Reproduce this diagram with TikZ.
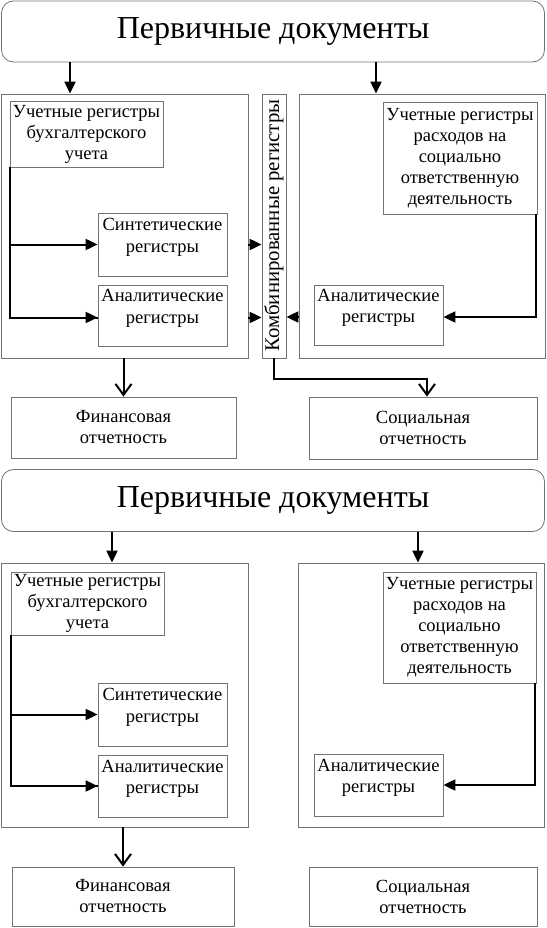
\documentclass[tikz,border=0pt]{standalone}
\usepackage{fontspec}
\setmainfont{Liberation Serif}
\usetikzlibrary{arrows.meta}
\begin{document}
\begin{tikzpicture}[x=1pt,y=-1pt,
  bx/.style={draw=black!55, line width=0.8pt, align=center, inner sep=0pt,
    font=\fontsize{18.5}{21}\selectfont},
  up/.style={label={[align=center, inner sep=0pt, font=\fontsize{18.5}{21.5}\selectfont, yshift=7pt]center:{#1}}},
  ttl/.style={bx, rounded corners=12pt, font=\fontsize{32}{36}\selectfont},
  arr/.style={-{Triangle[length=12pt,width=11pt]}, line width=2pt},
  barb/.style={-{Straight Barb[length=11pt,width=16pt]}, line width=2pt},
  ln/.style={line width=2pt}]
\useasboundingbox (0,0) rectangle (546,928);
% ---------- top half ----------
\node[ttl, minimum width=543pt, minimum height=61pt] (title1) at (273,31.5) {Первичные документы};
\node[bx, minimum width=247pt, minimum height=264pt] (lbox1) at (124.5,226) {};
\node[bx, minimum width=24pt, minimum height=264pt] (comb) at (274,226) {};
\node[rotate=90, font=\fontsize{20.8}{24}\selectfont, inner sep=0pt] (combt) at ([yshift=0.5pt]comb.center) {Комбинированные регистры};
\node[bx, minimum width=246pt, minimum height=264pt] (rbox1) at (422,226) {};
\node[bx, minimum width=153pt, minimum height=66pt] (A1) at (86.5,134) {Учетные регистры\\бухгалтерского\\учета};
\node[bx, minimum width=129pt, minimum height=63pt, up={Синтетические\\регистры}] (S1) at (162.5,244.5) {};
\node[bx, minimum width=129pt, minimum height=61pt, up={Аналитические\\регистры}] (N1) at (162.5,315.5) {};
\node[bx, minimum width=154pt, minimum height=112pt] (B1) at (460,158) {Учетные регистры\\расходов на\\социально\\ответственную\\деятельность};
\node[bx, minimum width=129pt, minimum height=60pt, up={Аналитические\\регистры}] (R1) at (378.5,315) {};
\node[bx, minimum width=225pt, minimum height=61pt] (F1) at (123.5,427.5) {Финансовая\\отчетность};
\node[bx, minimum width=228pt, minimum height=62pt] (So1) at (423,428) {Социальная\\отчетность};
\coordinate (c1l) at (70,0);
\coordinate (c1r) at (376,0);
\draw[arr] (c1l |- title1.south) -- (c1l |- lbox1.north);
\draw[arr] (c1r |- title1.south) -- (c1r |- rbox1.north);
\draw[ln] ([xshift=0.5pt]A1.south west) |- ([yshift=-2pt]N1.west);
\draw[arr] ([xshift=0.5pt]A1.south west |- S1.west) -- (S1.west);
\draw[arr] ([xshift=0.5pt,yshift=-2pt]A1.south west |- N1.west) -- ([yshift=-2pt]N1.west);
\draw[arr] (lbox1.east |- S1.west) -- (comb.west |- S1.west);
\draw[arr] ([yshift=-2pt]lbox1.east |- N1.west) -- ([yshift=-2pt]comb.west |- N1.west);
\draw[arr] ([xshift=-1pt]B1.south east) |- ([yshift=-2pt]R1.east);
\draw[arr] ([yshift=-2pt]rbox1.west |- R1.west) -- ([yshift=-2pt]comb.east |- R1.west);
\draw[barb] (F1.north |- lbox1.south) -- (F1.north);
\coordinate (so1in) at ([xshift=4pt]So1.north);
\draw[barb] (comb.south) -- ++(0,21) -| (so1in);
% ---------- bottom half ----------
\node[ttl, minimum width=543pt, minimum height=62pt] (title2) at (273,500.5) {Первичные документы};
\node[bx, minimum width=247pt, minimum height=264pt] (lbox2) at (124.5,695) {};
\node[bx, minimum width=246pt, minimum height=264pt] (rbox2) at (421,695) {};
\node[bx, minimum width=153pt, minimum height=63pt] (A2) at (87.5,603.5) {Учетные регистры\\бухгалтерского\\учета};
\node[bx, minimum width=129pt, minimum height=63pt, up={Синтетические\\регистры}] (S2) at (162.5,714.5) {};
\node[bx, minimum width=129pt, minimum height=62pt, up={Аналитические\\регистры}] (N2) at (162.5,786) {};
\node[bx, minimum width=153pt, minimum height=111pt] (B2) at (459.5,627.5) {Учетные регистры\\расходов на\\социально\\ответственную\\деятельность};
\node[bx, minimum width=129pt, minimum height=62pt, up={Аналитические\\регистры}] (R2) at (378.5,785) {};
\node[bx, minimum width=222pt, minimum height=59pt] (F2) at (123,896.5) {Финансовая\\отчетность};
\node[bx, minimum width=228pt, minimum height=59pt] (So2) at (423,896.5) {Социальная\\отчетность};
\coordinate (c2l) at (112,0);
\coordinate (c2r) at (418,0);
\draw[arr] (c2l |- title2.south) -- (c2l |- lbox2.north);
\draw[arr] (c2r |- title2.south) -- (c2r |- rbox2.north);
\draw[ln] ([xshift=0.5pt]A2.south west) |- (N2.west);
\draw[arr] ([xshift=0.5pt]A2.south west |- S2.west) -- (S2.west);
\draw[arr] ([xshift=0.5pt]A2.south west |- N2.west) -- (N2.west);
\draw[arr] ([xshift=-1pt]B2.south east) |- (R2.east);
\draw[barb] (F2.north |- lbox2.south) -- (F2.north);
\end{tikzpicture}
\end{document}
